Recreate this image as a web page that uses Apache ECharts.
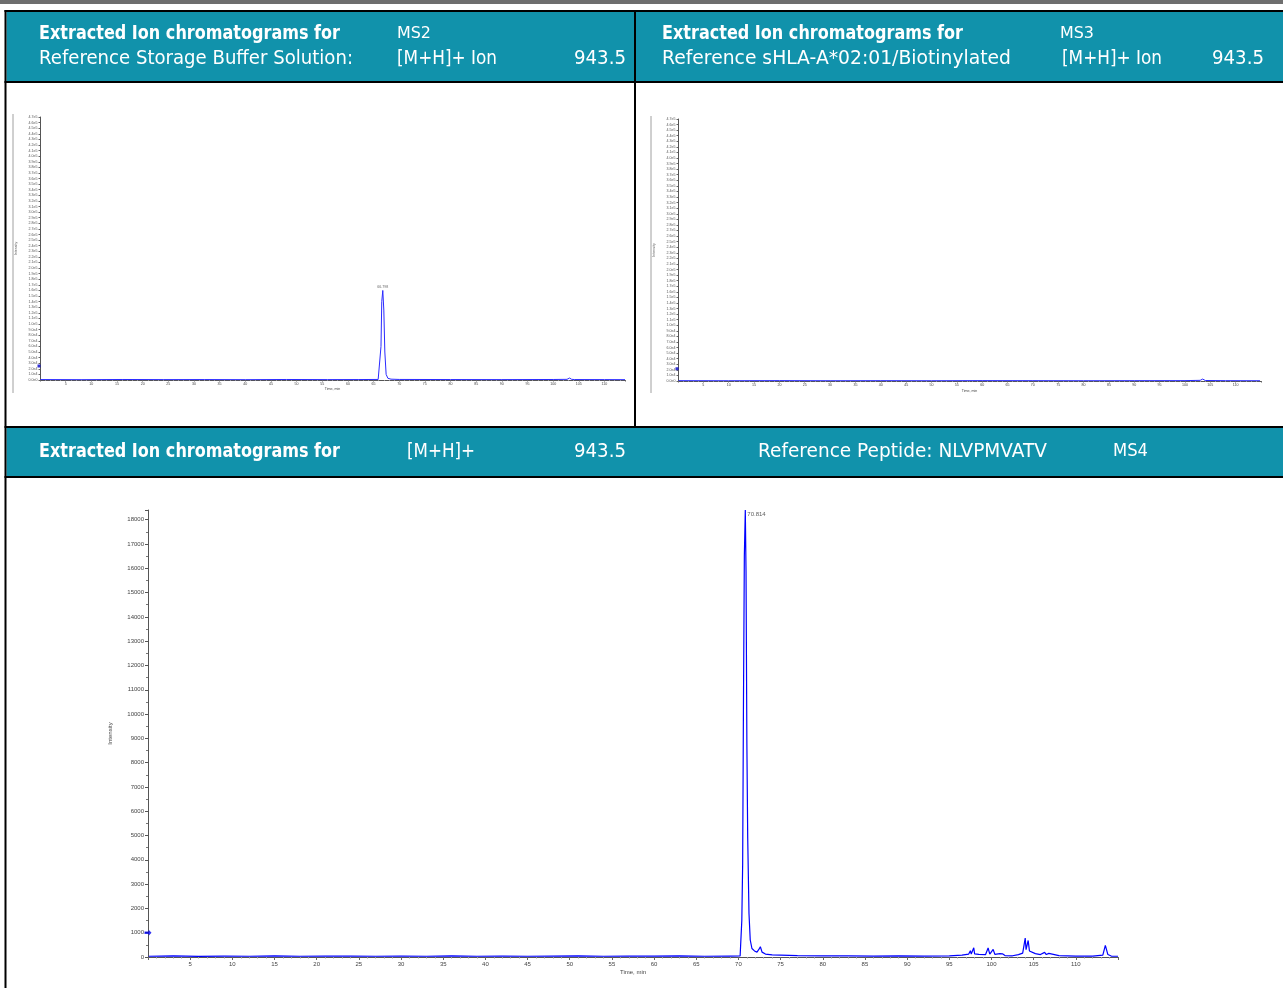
<!DOCTYPE html>
<html>
<head>
<meta charset="utf-8">
<script src="https://cdn.jsdelivr.net/npm/echarts@6/dist/echarts.min.js"></script>
<style>
html,body{margin:0;padding:0;background:#fff;}
#chart{width:1283px;height:988px;}
</style>
</head>
<body>
<div id="chart"></div>
<script>
// ---------- DATA ----------
// MS2 : Reference Storage Buffer Solution, [M+H]+ 943.5
const ms2Time = [0.1, 8, 16, 24, 32, 40, 48, 56, 62, 65.9, 66.2, 66.45, 66.6, 66.8, 67.0, 67.2, 67.45, 67.8, 68.4, 70, 80, 90, 100, 102.7, 103.2, 103.6, 104.2, 110, 114];
const ms2Intensity = [800, 600, 900, 700, 800, 600, 900, 700, 800, 1000, 4000, 60000, 140000, 160000, 125000, 50000, 10000, 3000, 1500, 1000, 800, 700, 900, 1200, 3500, 1200, 800, 700, 600];
const ms2PeakLabel = '66.798';
const ms2PeakTime = 66.8, ms2PeakValue = 160000;

// MS3 : Reference sHLA-A*02:01/Biotinylated
const ms3Time = [0.1, 10, 20, 30, 40, 50, 60, 70, 80, 90, 100, 103.0, 103.5, 104.0, 108, 114.8];
const ms3Intensity = [600, 500, 700, 500, 600, 500, 700, 600, 500, 600, 700, 1200, 3500, 900, 600, 500];

// MS4 : Reference Peptide NLVPMVATV
const ms4Time = [0.1, 3, 6, 9, 12, 15, 18, 21, 24, 27, 30, 33, 36, 39, 42, 45, 48, 51, 54, 57, 60, 63, 66, 69, 70.2,
  70.4, 70.5, 70.6, 70.7, 70.814, 70.9, 71.0, 71.1, 71.25, 71.4, 71.6, 71.9, 72.2, 72.4, 72.6, 72.8, 73.2, 74, 75, 77, 80, 83, 86, 89, 92, 95,
  96.5, 97.3, 97.5, 97.6, 97.9, 98.0, 98.5, 99.3, 99.6, 99.8, 100.2, 100.4, 101.0, 101.3, 101.6, 102.5, 103.2, 103.7, 104.0, 104.1, 104.35, 104.5, 104.7, 105.2, 105.8,
  106.3, 106.5, 106.8, 107.0, 108, 110, 112, 113.2, 113.5, 113.8, 114.2, 115];
const ms4Intensity = [30, 45, 25, 40, 30, 45, 30, 40, 35, 30, 40, 30, 45, 30, 40, 30, 35, 45, 30, 40, 35, 45, 30, 40, 45,
  1500, 3800, 10700, 16500, 18400, 15900, 8800, 4900, 1800, 700, 350, 250, 200, 300, 420, 200, 120, 90, 80, 60, 50, 45, 40, 45, 40, 50,
  80, 120, 260, 120, 380, 130, 110, 100, 370, 120, 310, 110, 140, 130, 60, 50, 100, 160, 780, 300, 680, 250, 200, 140, 100,
  190, 100, 150, 80, 60, 40, 40, 80, 480, 100, 40, 30];
const ms4PeakLabel = '70.814';
const ms4PeakTime = 70.814, ms4PeakValue = 18400;

// Headers
const headerTopLeft = ['Extracted Ion chromatograms for', 'Reference Storage Buffer Solution:', 'MS2', '[M+H]+ Ion', '943.5'];
const headerTopRight = ['Extracted Ion chromatograms for', 'Reference sHLA-A*02:01/Biotinylated', 'MS3', '[M+H]+ Ion', '943.5'];
const headerBottom = ['Extracted Ion chromatograms for', '[M+H]+', '943.5', 'Reference Peptide: NLVPMVATV', 'MS4'];

// ---------- LAYOUT / STYLE ----------
const TEAL = '#1192ab';
const HFONT = '"DejaVu Sans",sans-serif';
const AFONT = '"Liberation Sans","DejaVu Sans",Arial,sans-serif';
const mctx = document.createElement('canvas').getContext('2d');
function htext(text, x, y, w, size, bold) {
  const weight = bold ? 'bold' : 'normal';
  const font = weight + ' ' + size + 'px ' + HFONT;
  mctx.font = font;
  const sx = w / mctx.measureText(text).width;
  return { type: 'text', x: x, y: y, scaleX: sx, scaleY: 1,
    style: { text: text, x: 0, y: 0, fill: '#fff', font: font, textVerticalAlign: 'middle', textAlign: 'left' }, z: 10 };
}

const graphics = [
  { type: 'rect', shape: { x: 0, y: 0, width: 1283, height: 4 }, style: { fill: '#6e6e6e' } },
  { type: 'rect', shape: { x: 4.5, y: 10, width: 1279, height: 2 }, style: { fill: '#000' } },
  { type: 'rect', shape: { x: 6.5, y: 12, width: 627.5, height: 69 }, style: { fill: TEAL } },
  { type: 'rect', shape: { x: 636, y: 12, width: 647, height: 69 }, style: { fill: TEAL } },
  { type: 'rect', shape: { x: 4.5, y: 81, width: 1279, height: 2 }, style: { fill: '#000' } },
  { type: 'rect', shape: { x: 634, y: 10, width: 2, height: 418 }, style: { fill: '#000' } },
  { type: 'rect', shape: { x: 4.5, y: 426, width: 1279, height: 2 }, style: { fill: '#000' } },
  { type: 'rect', shape: { x: 6.5, y: 428, width: 1277, height: 48 }, style: { fill: TEAL } },
  { type: 'rect', shape: { x: 4.5, y: 476, width: 1279, height: 2 }, style: { fill: '#000' } },
  { type: 'rect', shape: { x: 4.5, y: 10, width: 2, height: 978 }, style: { fill: '#000' } },
  { type: 'line', shape: { x1: 13, y1: 114, x2: 13, y2: 393 }, style: { stroke: '#a0a0a0', lineWidth: 1 } },
  { type: 'line', shape: { x1: 651, y1: 116, x2: 651, y2: 393 }, style: { stroke: '#a0a0a0', lineWidth: 1 } },
  htext(headerTopLeft[0], 39, 34, 301, 19, true),
  htext(headerTopLeft[1], 39, 59, 314, 19, false),
  htext(headerTopLeft[2], 397, 34, 34, 15, false),
  htext(headerTopLeft[3], 397, 59, 100, 19, false),
  htext(headerTopLeft[4], 574, 59, 52, 19, false),
  htext(headerTopRight[0], 662, 34, 301, 19, true),
  htext(headerTopRight[1], 662, 59, 349, 19, false),
  htext(headerTopRight[2], 1060, 34, 34, 15, false),
  htext(headerTopRight[3], 1062, 59, 100, 19, false),
  htext(headerTopRight[4], 1212, 59, 52, 19, false),
  htext(headerBottom[0], 39, 452, 301, 19, true),
  htext(headerBottom[1], 407, 452, 68, 19, false),
  htext(headerBottom[2], 574, 452, 52, 19, false),
  htext(headerBottom[3], 758, 452, 289, 19, false),
  htext(headerBottom[4], 1113, 452, 35, 17, false)
];

function zip(a, b) { return a.map((t, i) => [t, b[i]]); }

function xAxis(gi, max, fs, gap, nfs) {
  return {
    type: 'value', gridIndex: gi, min: 0, max: max, interval: 5,
    axisLine: { onZero: false, lineStyle: { color: '#555', width: 1 } },
    axisTick: { show: true, length: fs > 5 ? 3 : 1.5, lineStyle: { color: '#666' } },
    minorTick: { show: true, splitNumber: 5, length: fs > 5 ? 1.5 : 1, lineStyle: { color: '#999' } },
    splitLine: { show: false },
    axisLabel: { fontSize: fs, fontFamily: AFONT, color: '#444', margin: fs > 5 ? 4 : 2, formatter: v => (v > 0 && v <= 110 && v % 5 === 0) ? String(v) : '' },
    name: 'Time, min', nameLocation: 'middle', nameGap: gap,
    nameTextStyle: { fontSize: nfs, fontFamily: AFONT, color: '#444' }
  };
}
function expFmt(v) { return v > 470000 ? '' : v.toExponential(1).replace('e+', 'e'); }
function yAxisTop(gi) {
  return {
    type: 'value', gridIndex: gi, min: 0, max: 470000, interval: 10000,
    axisLine: { show: true, lineStyle: { color: '#555', width: 1 } },
    axisTick: { show: true, length: 1.5, lineStyle: { color: '#666' } },
    splitLine: { show: false },
    axisLabel: { fontSize: 3.6, fontFamily: AFONT, color: '#555', margin: 2.5, formatter: expFmt },
    name: 'Intensity', nameLocation: 'middle', nameGap: 22, nameRotate: 90,
    nameTextStyle: { fontSize: 3.6, fontFamily: AFONT, color: '#555' }
  };
}

const option = {
  animation: false,
  backgroundColor: '#fff',
  graphic: graphics,
  grid: [
    { left: 40, top: 117, width: 585, height: 263, outerBoundsMode: 'none' },
    { left: 678, top: 119, width: 583, height: 262, outerBoundsMode: 'none' },
    { left: 148, top: 510, width: 970, height: 447, outerBoundsMode: 'none' }
  ],
  xAxis: [
    xAxis(0, 114, 3.6, 7, 3.6),
    xAxis(1, 115, 3.6, 8, 3.6),
    xAxis(2, 115, 6, 12, 6)
  ],
  yAxis: [
    yAxisTop(0),
    yAxisTop(1),
    {
      type: 'value', gridIndex: 2, min: 0, max: 18400, interval: 1000,
      axisLine: { show: true, lineStyle: { color: '#555', width: 1 } },
      axisTick: { show: true, length: 3, lineStyle: { color: '#555' } },
      minorTick: { show: true, splitNumber: 2, length: 2, lineStyle: { color: '#777' } },
      splitLine: { show: false },
      axisLabel: { fontSize: 6, fontFamily: AFONT, color: '#444', margin: 4, formatter: v => (v % 1000 === 0 && v <= 18000) ? String(v) : '' },
      name: 'Intensity', nameLocation: 'middle', nameGap: 35, nameRotate: 90,
      nameTextStyle: { fontSize: 6, fontFamily: AFONT, color: '#444' }
    }
  ],
  series: [
    { type: 'line', xAxisIndex: 0, yAxisIndex: 0, data: zip(ms2Time, ms2Intensity), showSymbol: false, lineStyle: { color: '#2a2aff', width: 1 }, z: 3 },
    { type: 'scatter', xAxisIndex: 0, yAxisIndex: 0, data: [[ms2PeakTime, ms2PeakValue]], symbolSize: 0, silent: true,
      label: { show: true, position: 'top', distance: 1, formatter: ms2PeakLabel, fontSize: 3.6, fontFamily: AFONT, color: '#444' } },
    { type: 'scatter', xAxisIndex: 0, yAxisIndex: 0, data: [[0, 25000]], symbol: 'rect', symbolSize: [3, 3], symbolOffset: [-1, 0], itemStyle: { color: '#0000cc' }, clip: false, z: 5 },
    { type: 'line', xAxisIndex: 1, yAxisIndex: 1, data: zip(ms3Time, ms3Intensity), showSymbol: false, lineStyle: { color: '#2a2aff', width: 1 }, z: 3 },
    { type: 'scatter', xAxisIndex: 1, yAxisIndex: 1, data: [[0, 22000]], symbol: 'rect', symbolSize: [3, 3], symbolOffset: [-1, 0], itemStyle: { color: '#0000cc' }, clip: false, z: 5 },
    { type: 'line', xAxisIndex: 2, yAxisIndex: 2, data: zip(ms4Time, ms4Intensity), showSymbol: false, lineStyle: { color: '#0000ff', width: 1.2 }, z: 3 },
    { type: 'scatter', xAxisIndex: 2, yAxisIndex: 2, data: [[ms4PeakTime, ms4PeakValue]], symbolSize: 0, silent: true,
      label: { show: true, position: 'right', distance: 2, offset: [0, 4], formatter: ms4PeakLabel, fontSize: 6, fontFamily: AFONT, color: '#333' } },
    { type: 'scatter', xAxisIndex: 2, yAxisIndex: 2, data: [[0, 1000]], symbol: 'path://M0,3 L6,3 L6,0 L10,5 L6,10 L6,7 L0,7 Z', symbolSize: [7, 6], itemStyle: { color: '#0000ee' }, clip: false, z: 5 }
  ]
};

const chart = echarts.init(document.getElementById('chart'), null, { renderer: 'canvas', width: 1283, height: 988 });
chart.setOption(option);
</script>
</body>
</html>
